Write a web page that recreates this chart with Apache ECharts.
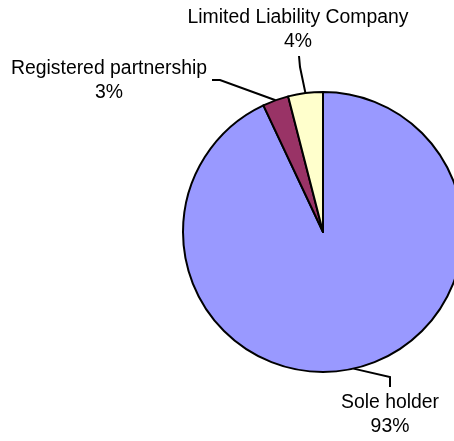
<!DOCTYPE html>
<html lang="en">
  <head>
    <meta charset="UTF-8" />
    <title>Legal form</title>
    <script src="https://cdn.jsdelivr.net/npm/echarts@6/dist/echarts.min.js"></script>
    <style>
      html, body { margin: 0; padding: 0; background: #fff; }
      #main { width: 454px; height: 441px; }
    </style>
  </head>
  <body>
    <div id="main"></div>
    <script>
      // data
      const names = ["Sole holder", "Registered partnership", "Limited Liability Company"];
      const shares = [93, 3, 4];
      const colors = ["#9999ff", "#993366", "#ffffcc"];

      // where each label sits and how its leader line bends
      const labelSpots = [
        { x: 390, y: 415, line: [[390, 377], [390, 387]] },
        { x: 109, y: 81, line: [[220, 80], [212, 80]] },
        { x: 298, y: 30, line: [[300, 67], [299, 56]] },
      ];

      var myChart = echarts.init(document.getElementById("main"));
      var option = {
        animation: false,
        series: [
          {
            type: "pie",
            center: [323, 232],
            radius: 140,
            startAngle: 90,
            clockwise: true,
            percentPrecision: 0,
            emphasis: { disabled: true },
            itemStyle: {
              borderColor: "#000",
              borderWidth: 2,
            },
            label: {
              show: true,
              formatter: "{b}\n{d}%",
              fontFamily: "Liberation Sans, Arial, sans-serif",
              fontSize: 19.4,
              lineHeight: 24,
              color: "#000",
              align: "center",
              overflow: "none",
              edgeDistance: 0,
            },
            labelLine: {
              show: true,
              length: 20,
              length2: 10,
              lineStyle: { color: "#000", width: 2 },
            },
            labelLayout: function (params) {
              const s = labelSpots[params.dataIndex];
              const start = params.labelLinePoints ? params.labelLinePoints[0] : s.line[0];
              return {
                x: s.x,
                y: s.y,
                align: "center",
                verticalAlign: "middle",
                labelLinePoints: [start, s.line[0], s.line[1]],
              };
            },
            data: names.map((n, i) => ({
              name: n,
              value: shares[i],
              itemStyle: { color: colors[i] },
            })),
          },
        ],
      };
      option && myChart.setOption(option);
    </script>
  </body>
</html>
